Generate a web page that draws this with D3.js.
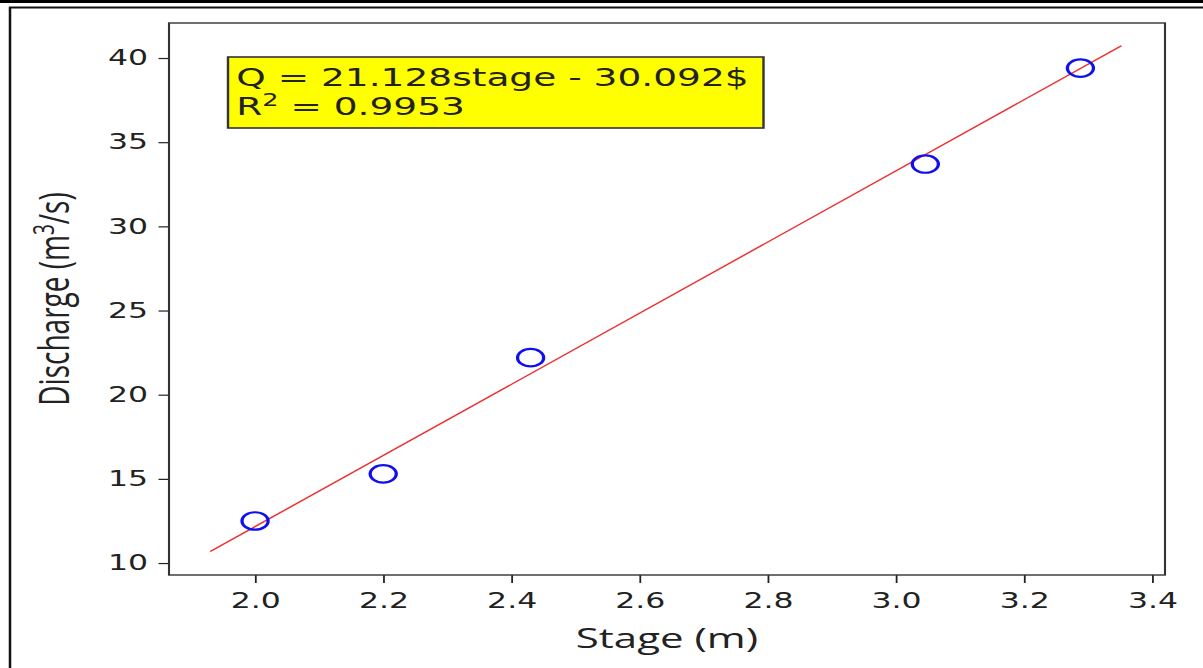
<!DOCTYPE html>
<html>
<head>
<meta charset="utf-8">
<script src="https://cdn.jsdelivr.net/npm/d3@7"></script>
<style>
  html, body { margin: 0; padding: 0; background: #fff; }
  svg { display: block; }
</style>
</head>
<body>
<svg id="chart" width="1203" height="668"></svg>
<script>
// Stage–discharge measurements
const stage = [2.0, 2.2, 2.43, 3.046, 3.288];
const discharge = [12.5, 15.3, 22.2, 33.7, 39.4];

// Linear rating curve Q = a*stage + b
const slope = 21.128;
const intercept = -30.092;
const rSquared = 0.9953;
const fitRange = [1.93, 3.352];

// Axis ticks
const xTicks = [2.0, 2.2, 2.4, 2.6, 2.8, 3.0, 3.2, 3.4];
const yTicks = [10, 15, 20, 25, 30, 35, 40];

(function draw() {
  const W = 1203, H = 668;
  const stretch = 1.5;               // horizontal scale of the figure
  const svg = d3.select("#chart");

  // outer page frame
  svg.append("rect").attr("x", 0).attr("y", 0).attr("width", W).attr("height", 3).attr("fill", "#000");
  svg.append("line").attr("x1", 9).attr("x2", W).attr("y1", 7.5).attr("y2", 7.5)
    .attr("stroke", "#111").attr("stroke-width", 2);
  svg.append("line").attr("x1", 10).attr("x2", 10).attr("y1", 7).attr("y2", H)
    .attr("stroke", "#111").attr("stroke-width", 2.5);

  // figure drawn in its own units, then stretched horizontally
  const fig = svg.append("g").attr("transform", `scale(${stretch},1)`);

  const pLeft = 169 / stretch, pRight = 1165 / stretch, pTop = 23, pBottom = 575;

  const x = d3.scaleLinear().domain([1.8657, 3.42]).range([pLeft, pRight]);
  const y = d3.scaleLinear().domain([9.29, 42.08]).range([pBottom, pTop]);

  // axes
  const xAxis = d3.axisBottom(x).tickValues(xTicks).tickFormat(d3.format(".1f"))
    .tickSize(8).tickPadding(10);
  const yAxis = d3.axisLeft(y).tickValues(yTicks).tickFormat(d3.format("d"))
    .tickSize(7).tickPadding(7);

  const gx = fig.append("g").attr("transform", `translate(0,${pBottom})`).call(xAxis);
  const gy = fig.append("g").attr("transform", `translate(${pLeft},0)`).call(yAxis);
  [gx, gy].forEach(g => {
    g.select(".domain").remove();
    g.selectAll(".tick line").attr("stroke", "#222").attr("stroke-width", 1.2);
    g.selectAll(".tick text").attr("fill", "#222")
      .style("font-family", "DejaVu Sans").style("font-size", "21px");
  });

  // frame of the plotting area
  fig.append("rect").attr("x", pLeft).attr("y", pTop)
    .attr("width", pRight - pLeft).attr("height", pBottom - pTop)
    .attr("fill", "none").attr("stroke", "#333").attr("stroke-width", 1.4);

  // fitted line
  const fitLine = d3.line().x(d => x(d)).y(d => y(slope * d + intercept));
  fig.append("path").datum(fitRange).attr("d", fitLine)
    .attr("fill", "none").attr("stroke", "#ee3030").attr("stroke-width", 1.3);

  // observed points as open circles
  fig.selectAll("circle.obs").data(stage.map((s, i) => [s, discharge[i]]))
    .join("circle").attr("class", "obs")
    .attr("cx", d => x(d[0])).attr("cy", d => y(d[1])).attr("r", 8.7)
    .attr("fill", "none").attr("stroke", "#1010ee").attr("stroke-width", 2.2);

  // equation box
  const boxX = 152, boxY = 57, boxW = 357, boxH = 71;
  fig.append("rect").attr("x", boxX).attr("y", boxY).attr("width", boxW).attr("height", boxH)
    .attr("fill", "#ffff00").attr("stroke", "#333").attr("stroke-width", 1.6);
  fig.append("text").attr("x", boxX + 5.5).attr("y", 86)
    .style("font-family", "DejaVu Sans").style("font-size", "25px").attr("fill", "#222")
    .text(`Q = ${slope.toFixed(3)}stage - ${Math.abs(intercept).toFixed(3)}$`);
  const r2 = fig.append("text").attr("x", boxX + 5.5).attr("y", 115)
    .style("font-family", "DejaVu Sans").style("font-size", "25px").attr("fill", "#222");
  r2.append("tspan").text("R");
  r2.append("tspan").attr("dy", -9).style("font-size", "17px").text("2");
  r2.append("tspan").attr("dy", 9).text(` = ${rSquared.toFixed(4)}`);

  // axis titles
  fig.append("text").attr("x", (pLeft + pRight) / 2).attr("y", 648)
    .attr("text-anchor", "middle")
    .style("font-family", "Open Sans").style("font-size", "28px").attr("fill", "#222")
    .text("Stage (m)");

  const yl = fig.append("text")
    .attr("transform", `translate(${46},${(pTop + pBottom) / 2}) rotate(-90)`)
    .attr("text-anchor", "middle")
    .style("font-family", "Open Sans").style("font-size", "28px").attr("fill", "#222");
  yl.append("tspan").text("Discharge (m");
  yl.append("tspan").attr("dy", -10).style("font-size", "19px").text("3");
  yl.append("tspan").attr("dy", 10).text("/s)");
})();
</script>
</body>
</html>
